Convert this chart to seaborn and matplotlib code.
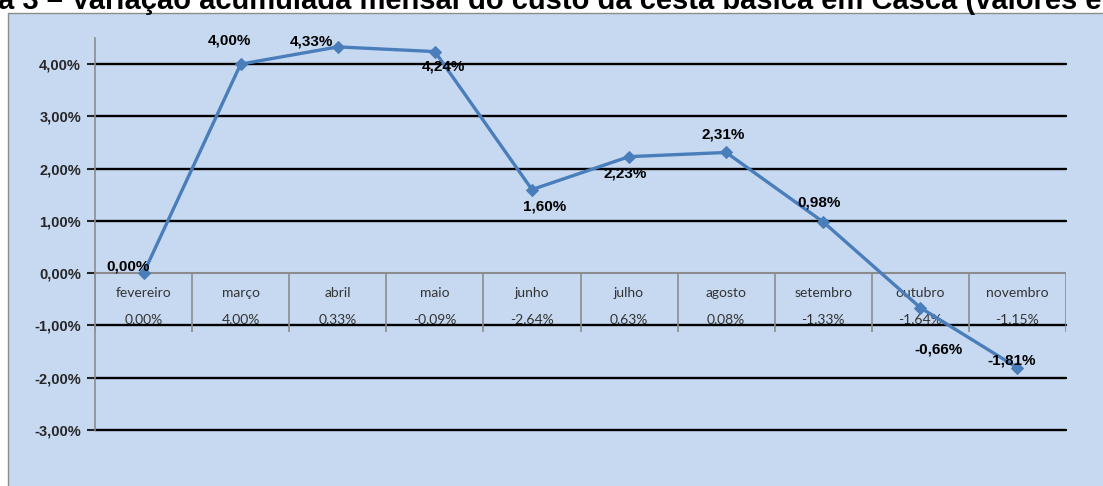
import matplotlib
matplotlib.use('Agg')
import matplotlib.pyplot as plt
import seaborn as sns
import pandas as pd
from matplotlib.patches import Rectangle

# dados do gráfico
meses = ['fevereiro', 'março', 'abril', 'maio', 'junho', 'julho', 'agosto',
         'setembro', 'outubro', 'novembro']
acumulada = [0.00, 4.00, 4.33, 4.24, 1.60, 2.23, 2.31, 0.98, -0.66, -1.81]
mensal = [0.00, 4.00, 0.33, -0.09, -2.64, 0.63, 0.08, -1.33, -1.64, -1.15]
y_ticks = [-3, -2, -1, 0, 1, 2, 3, 4]

# where Excel put each data label (offset in points from the marker)
offsets = [(-11, 5), (-8, 17), (-19, 4), (6, -11), (9, -12), (-3, -12),
           (-2, 13), (-3, 14), (13, -30), (-4, 5)]

titulo = 'a 3 \u2013 Variação acumulada mensal do custo da cesta básica em Casca (valores e'

def pct(v):
    return f'{v:.2f}%'.replace('.', ',')

sns.set_style('white')
plt.rcParams['font.family'] = ['Liberation Sans', 'DejaVu Sans']

azul_fundo = '#C6D9F1'
azul_linha = '#4A7EBB'

fig = plt.figure(figsize=(11.03, 4.86), dpi=100)
fig.patch.set_facecolor('white')

# chart area box (light blue, goes off the page right and bottom)
fig.patches.append(Rectangle((8 / 1103, -0.1), 1.2, 1.1 - 13 / 486,
                             transform=fig.transFigure, facecolor=azul_fundo,
                             edgecolor='#8C8C8C', lw=1.0, zorder=-5))

fig.text(-0.002, 1 - 9 / 486, titulo, fontsize=21, fontweight='bold',
         va='baseline', ha='left', color='black')

ax = fig.add_axes([95 / 1103, 1 - 430 / 486, (1066 - 95) / 1103, (430 - 38) / 486])
ax.set_facecolor('none')
ax.set_zorder(2)

df = pd.DataFrame({'pos': range(len(meses)), 'valor': acumulada})

# gridlines
for t in y_ticks:
    if t != 0:
        ax.axhline(t, color='black', lw=1.7, zorder=1, clip_on=False)
ax.axhline(0, color='#8C8C8C', lw=1.5, zorder=2)

# data table under the category axis
for k in range(len(meses) + 1):
    ax.plot([k - 0.5, k - 0.5], [0, -1.12], color='#8C8C8C', lw=1.2, zorder=2,
            solid_capstyle='butt')
for i, (m, v) in enumerate(zip(meses, mensal)):
    ax.text(i, -0.38, m, ha='center', va='center', fontsize=10,
            family='Lato', color='#333333', zorder=2)
    ax.text(i, -0.88, pct(v), ha='center', va='center', fontsize=10,
            family='Lato', color='#333333', zorder=0.5)

sns.lineplot(data=df, x='pos', y='valor', ax=ax, color=azul_linha, lw=2.4,
             marker='D', markersize=6, markeredgecolor=azul_linha, zorder=5)

for i, v in enumerate(acumulada):
    ax.annotate(pct(v), (i, v), xytext=offsets[i], textcoords='offset points',
                ha='center', va='center', fontsize=11, fontweight='bold',
                color='black', zorder=6)

ax.set_xlim(-0.5, len(meses) - 0.5)
ax.set_ylim(-3, 4.5)
ax.set_xticks([])
ax.set_yticks(y_ticks)
ax.set_yticklabels([pct(t) for t in y_ticks], fontsize=10.5, fontweight='bold')
ax.tick_params(axis='y', length=6, width=1.5, color='#222222', pad=4, left=True)
ax.set_xlabel('')
ax.set_ylabel('')
for s in ['top', 'right', 'bottom']:
    ax.spines[s].set_visible(False)
ax.spines['left'].set_color('#8C8C8C')
ax.spines['left'].set_linewidth(1.2)

fig.savefig('out.png', dpi=100)
